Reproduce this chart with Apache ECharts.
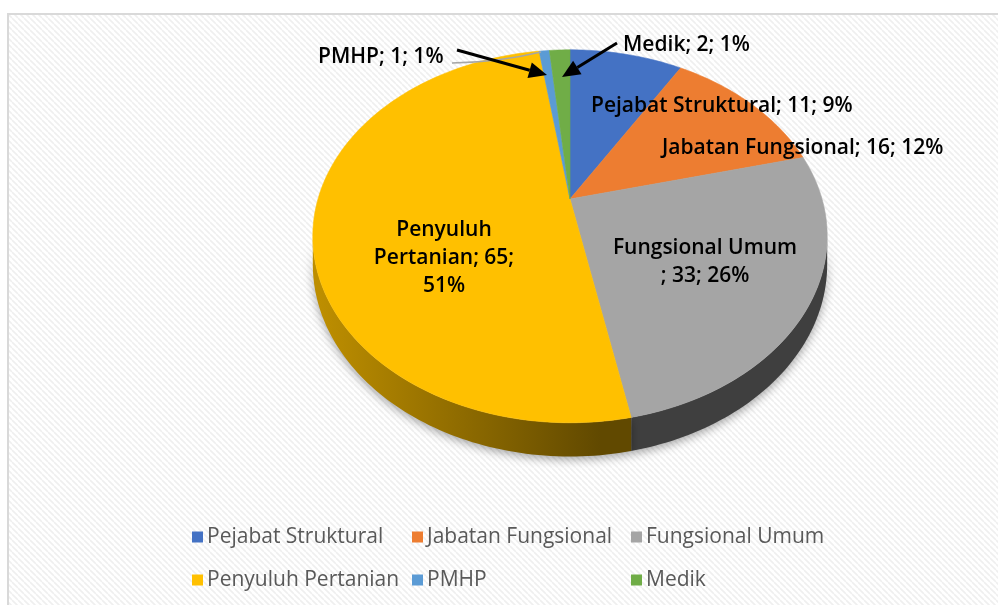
<!DOCTYPE html>
<html>
<head>
<meta charset="utf-8">
<title>Komposisi Pegawai</title>
<script src="https://cdn.jsdelivr.net/npm/echarts@6/dist/echarts.min.js"></script>
<style>
  html, body { margin: 0; padding: 0; background: #fff; }
  #chart { width: 998px; height: 605px; }
</style>
</head>
<body>
<div id="chart"></div>
<script>
// data
var categories = ['Pejabat Struktural', 'Jabatan Fungsional', 'Fungsional Umum', 'Penyuluh Pertanian', 'PMHP', 'Medik'];
var values = [11, 16, 33, 65, 1, 2];
var percents = [9, 12, 26, 51, 1, 1];
var colors = ['#4472c4', '#ed7d31', '#a5a5a5', '#ffc000', '#5b9bd5', '#70ad47'];

var total = values.reduce(function (a, b) { return a + b; }, 0);
var starts = [], ends = [];
var acc = 0;
values.forEach(function (v) {
  starts.push(acc / total * Math.PI * 2);
  acc += v;
  ends.push(acc / total * Math.PI * 2);
});

// tilted disc with a little perspective
var CX = 570, CY = 199, RX = 252, RY = 179, P = 0.2, DEPTH = 27;
function proj(t, down) {
  var u = Math.sin(t), v = Math.cos(t);
  var d = 1 + P * v;
  return [CX + RX * u / d, CY - RY * v / d + (down ? DEPTH / d : 0)];
}
var VIS0 = Math.acos(-P), VIS1 = Math.PI * 2 - Math.acos(-P);

function shade(hex, f) {
  var n = parseInt(hex.slice(1), 16);
  var r = Math.round(((n >> 16) & 255) * f), g = Math.round(((n >> 8) & 255) * f), b = Math.round((n & 255) * f);
  return 'rgb(' + r + ',' + g + ',' + b + ')';
}

function arc(t0, t1, down) {
  var n = Math.max(3, Math.ceil((t1 - t0) / 0.02));
  var pts = [];
  for (var k = 0; k <= n; k++) pts.push(proj(t0 + (t1 - t0) * k / n, down));
  return pts;
}

function renderSlice(params, api) {
  var i = api.value(0);
  var t0 = starts[i], t1 = ends[i];
  var color = colors[i];
  var children = [];
  var s0 = Math.max(t0, VIS0), s1 = Math.min(t1, VIS1);
  if (s1 > s0) {
    var side = arc(s0, s1, false).concat(arc(s0, s1, true).reverse());
    children.push({
      type: 'polygon',
      shape: { points: side },
      style: {
        fill: {
          type: 'linear', x: 320, y: 0, x2: 600, y2: 0, global: true,
          colorStops: [{ offset: 0, color: shade(color, 0.74) }, { offset: 1, color: shade(color, 0.38) }]
        },
        shadowBlur: 10, shadowColor: 'rgba(0,0,0,0.35)', shadowOffsetY: 3
      }
    });
  }
  var top = [[CX, CY]].concat(arc(t0, t1, false));
  children.push({
    type: 'polygon',
    shape: { points: top },
    style: { fill: color, stroke: color, lineWidth: 0.6 }
  });
  return { type: 'group', children: children };
}

// faint diagonal stripes of the plot area
var pc = document.createElement('canvas');
pc.width = 6; pc.height = 6;
var g = pc.getContext('2d');
g.fillStyle = '#ffffff'; g.fillRect(0, 0, 6, 6);
g.strokeStyle = '#efefef'; g.lineWidth = 1.6;
g.beginPath();
for (var k = -1; k <= 1; k++) { g.moveTo(k * 6, 0); g.lineTo(k * 6 + 6, 6); }
g.stroke();

var labelFont = { fontFamily: 'Open Sans', fontWeight: 600, fontSize: 21, fill: '#000' };
function label(text, x, y, align) {
  return {
    type: 'text', x: x, y: y, z: 100,
    style: Object.assign({ text: text, align: align || 'left', verticalAlign: 'middle', lineHeight: 28 }, labelFont)
  };
}
function arrow(x1, y1, x2, y2) {
  var ang = Math.atan2(y2 - y1, x2 - x1), L = 18, W = 8;
  var bx = x2 - L * Math.cos(ang), by = y2 - L * Math.sin(ang);
  return [
    { type: 'line', z: 100, shape: { x1: x1, y1: y1, x2: bx, y2: by }, style: { stroke: '#000', lineWidth: 3 } },
    { type: 'polygon', z: 100, shape: { points: [[x2, y2], [bx - W * Math.sin(ang), by + W * Math.cos(ang)], [bx + W * Math.sin(ang), by - W * Math.cos(ang)]] }, style: { fill: '#000' } }
  ];
}
function lab(i) { return categories[i] + '; ' + values[i] + '; ' + percents[i] + '%'; }

var legendBase = { top: 520, orient: 'vertical', itemGap: 19, itemWidth: 11, itemHeight: 11, icon: 'rect',
  textStyle: { color: '#595959', fontSize: 21, fontFamily: 'Open Sans', lineHeight: 24, padding: [0, 0, 0, -1] } };

var chart = echarts.init(document.getElementById('chart'));
chart.setOption({
  animation: false,
  backgroundColor: '#fff',
  legend: [
    Object.assign({ left: 187, data: [categories[0], categories[3]] }, legendBase),
    Object.assign({ left: 407, data: [categories[1], categories[4]] }, legendBase),
    Object.assign({ left: 626, data: [categories[2], categories[5]] }, legendBase)
  ],
  graphic: [
    { type: 'rect', z: -10, shape: { x: 8, y: 14, width: 1000, height: 600 },
      style: { fill: { image: pc, repeat: 'repeat' }, stroke: '#d9d9d9', lineWidth: 2 } },
    label(lab(5), 623, 45),
    label(lab(4), 318, 57),
    label(lab(0), 591, 106),
    label(lab(1), 662, 148),
    label('Fungsional Umum\n; ' + values[2] + '; ' + percents[2] + '%', 705, 262, 'center'),
    label('Penyuluh\nPertanian; ' + values[3] + ';\n' + percents[3] + '%', 444, 258, 'center'),
    { type: 'bezierCurve', z: 90, shape: { x1: 452, y1: 63, cpx1: 500, cpy1: 62, x2: 541, y2: 52 },
      style: { stroke: '#a6a6a6', lineWidth: 1.5, fill: null } }
  ].concat(arrow(617, 43, 562, 77)).concat(arrow(457, 50, 547, 75)),
  series: categories.map(function (name, i) {
    return {
      type: 'custom', name: name, coordinateSystem: 'none', silent: true,
      itemStyle: { color: colors[i] },
      data: [[i, values[i]]],
      renderItem: renderSlice
    };
  })
});
</script>
</body>
</html>
